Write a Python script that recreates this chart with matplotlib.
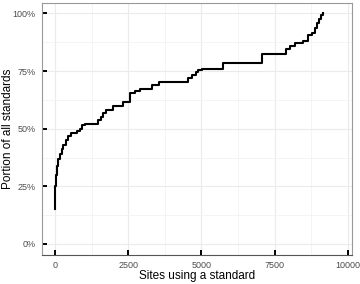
import numpy as np
import matplotlib.pyplot as plt
from matplotlib.ticker import FuncFormatter

plt.rcParams['font.family'] = ['Liberation Sans', 'DejaVu Sans']

# step positions (sites) and cumulative portion of standards
sites = [0, 10, 30, 60, 100, 170, 240, 283, 376, 454, 546, 741, 854, 932, 1025,
         1479, 1571, 1649, 1731, 1991, 2332, 2561, 2732, 2903, 3302, 3562,
         4552, 4668, 4815, 4873, 5010, 5747, 7059, 7889, 8025, 8196, 8480,
         8650, 8787, 8879, 8958, 9026, 9084, 9142]
portion = [0.15, 0.25, 0.30, 0.34, 0.37, 0.39, 0.41, 0.43, 0.45, 0.47, 0.48, 0.49,
           0.50, 0.515, 0.522, 0.537, 0.55, 0.566, 0.583, 0.598, 0.616, 0.653,
           0.664, 0.674, 0.689, 0.703, 0.718, 0.732, 0.746, 0.754, 0.761, 0.786,
           0.826, 0.848, 0.858, 0.87, 0.881, 0.906, 0.916, 0.935, 0.957, 0.974,
           0.993, 1.0]

x_ticks = [0, 2500, 5000, 7500, 10000]
y_ticks = [0, 0.25, 0.5, 0.75, 1.0]

fig = plt.figure(figsize=(3.6, 2.84), dpi=100)
ax = fig.add_axes([0.116, 0.103, 0.861, 0.886])

ax.step(sites, portion, where='post', color='black', linewidth=1.5, zorder=3)

ax.set_xlim(-454, 10133)
ax.set_ylim(-0.047, 1.045)
ax.set_xticks(x_ticks)
ax.set_yticks(y_ticks)
ax.set_xticks([1250, 3750, 6250, 8750], minor=True)
ax.set_yticks([0.125, 0.375, 0.625, 0.875], minor=True)
ax.yaxis.set_major_formatter(FuncFormatter(lambda v, p: f'{v * 100:.0f}%'))

ax.grid(True, which='major', color='#ebebeb', linewidth=0.8)
ax.grid(True, which='minor', color='#f2f2f2', linewidth=0.6)
ax.set_axisbelow(True)

ax.tick_params(which='major', direction='in', length=3.6, width=1.4, color='black',
               labelsize=6.5, labelcolor='#4d4d4d', pad=4.2)
ax.tick_params(which='minor', length=0)

for side in ['top', 'right', 'left']:
    ax.spines[side].set_color('#999999')
    ax.spines[side].set_linewidth(0.8)
ax.spines['bottom'].set_color('#555555')
ax.spines['bottom'].set_linewidth(0.8)

ax.set_xlabel('Sites using a standard', fontsize=8.5)
ax.set_ylabel('Portion of all standards', fontsize=8.5)
ax.xaxis.set_label_coords(0.5, -0.062)
ax.yaxis.set_label_coords(-0.09, 0.5)

fig.savefig('out.png', dpi=100)
